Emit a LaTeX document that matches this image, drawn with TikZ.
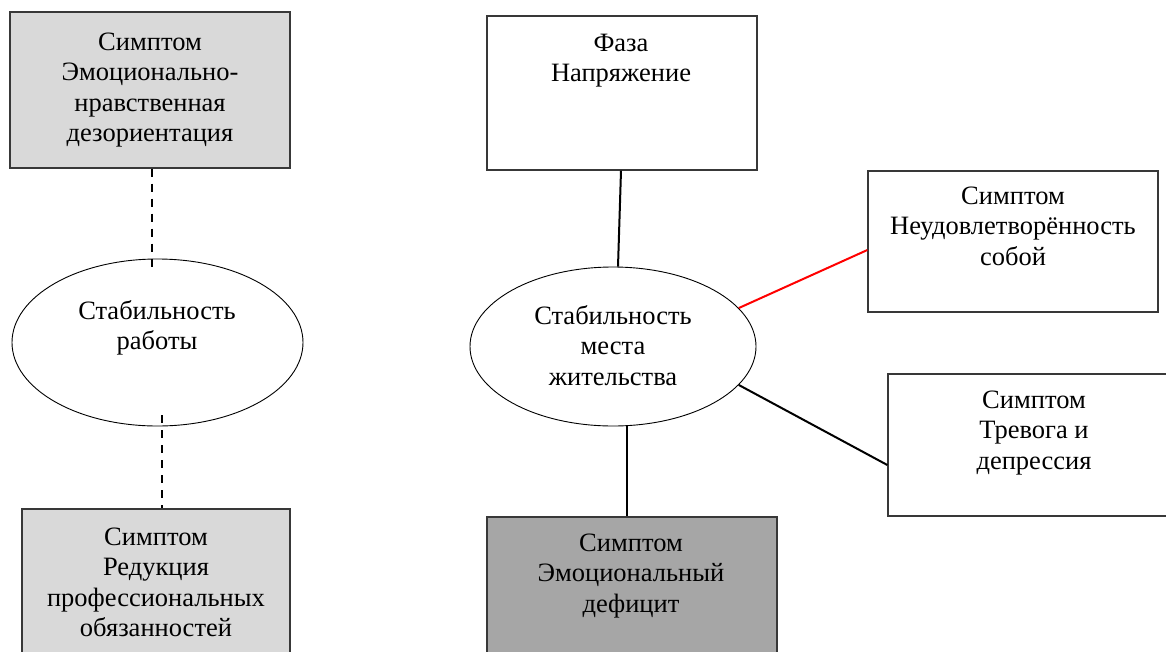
\documentclass[tikz,border=0pt]{standalone}
\usepackage{fontspec}
\setmainfont{Liberation Serif}
\usetikzlibrary{shapes.geometric}
\definecolor{lightfill}{HTML}{D9D9D9}
\definecolor{darkfill}{HTML}{A6A6A6}
\newcommand{\fl}{\rule{0pt}{19pt}}
\begin{document}
\begin{tikzpicture}[x=1pt,y=-1pt,
  boxshape/.style={rectangle,draw=black!78,line width=1.3pt,inner sep=0pt},
  ovalshape/.style={ellipse,draw=black,line width=0.9pt,inner sep=0pt,fill=white},
  label text/.style={anchor=north,inner sep=0pt,align=center,font=\fontsize{26.5}{30.5}\selectfont},
  conn/.style={line width=2pt,black},
  dashconn/.style={line width=2pt,black,dash pattern=on 8pt off 7pt},
  redconn/.style={line width=2pt,red}]
\useasboundingbox (0,0) rectangle (1166,651);
\clip (0,0) rectangle (1166,651);
\fill[white] (0,0) rectangle (1166,651);
% boxes
\node[boxshape,fill=lightfill,minimum width=280pt,minimum height=156pt] (A) at (150,90) {};
\node[boxshape,fill=lightfill,minimum width=268pt,minimum height=171pt] (B) at (156,594.5) {};
\node[boxshape,minimum width=270pt,minimum height=154pt] (F) at (622,93) {};
\node[boxshape,minimum width=290pt,minimum height=141pt] (N) at (1013,241.5) {};
\node[boxshape,minimum width=292pt,minimum height=142pt] (T) at (1034,445) {};
\node[boxshape,fill=darkfill,minimum width=290pt,minimum height=163pt] (D) at (632,598.5) {};
% ellipses
\node[ovalshape,minimum width=291pt,minimum height=167pt] (E1) at (157.5,342.5) {};
\node[ovalshape,minimum width=286pt,minimum height=159pt] (E2) at (613,346.5) {};
% texts
\node[label text] (tA) at (150,31) {\fl Симптом\\Эмоционально-\\нравственная\\дезориентация};
\node[label text] (tB) at (156,526) {\fl Симптом\\Редукция\\профессиональных\\обязанностей};
\node[label text] (tF) at (621,32) {\fl Фаза\\Напряжение};
\node[label text] (tE1) at (157,300) {\fl Стабильность\\работы};
\node[label text] (tE2) at (613,305) {\fl Стабильность\\места\\жительства};
\node[label text] (tN) at (1013,185) {\fl Симптом\\Неудовлетворённость\\собой};
\node[label text] (tT) at (1034,389) {\fl Симптом\\Тревога и\\депрессия};
\node[label text] (tD) at (631,532) {\fl Симптом\\Эмоциональный\\дефицит};
% connectors
\draw[dashconn,shorten >=-10pt] ([xshift=2pt]A.south) -- ([xshift=2pt]A.south |- E1.north);
\draw[dashconn,shorten <=-11pt] ([xshift=6pt]B.north |- E1.south) -- ([xshift=6pt]B.north);
\draw[conn] ([xshift=-1pt]F.south) -- ([xshift=5pt]E2.north);
\draw[redconn] (E2.17) -- ([yshift=-8.5pt]N.west);
\draw[conn] (E2.-17) -- ([yshift=-20pt]T.west);
\draw[conn] ([xshift=-5pt]D.north |- E2.south) -- ([xshift=-5pt]D.north);
\end{tikzpicture}
\end{document}
